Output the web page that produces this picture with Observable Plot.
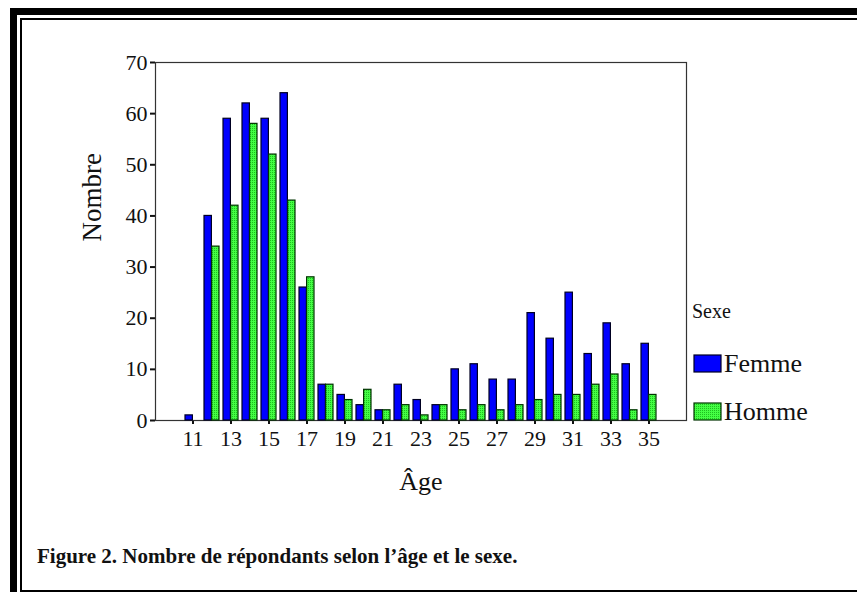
<!DOCTYPE html>
<html>
<head>
<meta charset="utf-8">
<script src="https://cdn.jsdelivr.net/npm/d3@7"></script>
<script src="https://cdn.jsdelivr.net/npm/@observablehq/plot@0.6"></script>
<style>
  html, body { margin: 0; padding: 0; background: #fff; }
  body { width: 857px; height: 592px; position: relative; overflow: hidden; font-family: "Liberation Serif", "Times New Roman", serif; }
  #outer { position: absolute; left: 10px; top: 8px; width: 900px; height: 700px; border-left: 7px solid #000; border-top: 7px solid #000; }
  #inner { position: absolute; left: 20px; top: 18px; width: 900px; height: 570px; border-left: 2px solid #000; border-top: 2px solid #000; border-bottom: 3px solid #000; }
  #chart { position: absolute; left: 0; top: 0; }
  #legend { position: absolute; left: 0; top: 0; }
  #caption { position: absolute; left: 37px; top: 544px; font: bold 21px "Liberation Serif", serif; color: #111; white-space: nowrap; }
  #chart svg g[aria-label*="axis"] path, #chart svg g[aria-label*="axis"] line { stroke-width: 2 !important; stroke: #111 !important; }
  #chart svg g[aria-label*="axis"] text { font-family: "Liberation Serif", serif !important; font-size: 22px !important; fill: #111 !important; }
</style>
</head>
<body>
<div id="outer"></div>
<div id="inner"></div>
<svg width="0" height="0" style="position:absolute">
  <defs>
    <pattern id="dotgreen" width="2" height="2" patternUnits="userSpaceOnUse">
      <rect width="2" height="2" fill="#44ff44"></rect>
      <rect width="1" height="1" fill="#1fbf1f"></rect>
    </pattern>
  </defs>
</svg>
<div id="chart"></div>
<svg id="legend" width="857" height="592"></svg>
<div id="caption">Figure 2. Nombre de répondants selon l’âge et le sexe.</div>
<script>
// ---- data ----
const ages = [11,12,13,14,15,16,17,18,19,20,21,22,23,24,25,26,27,28,29,30,31,32,33,34,35];
const femme = [1,40,59,62,59,64,26,7,5,3,2,7,4,3,10,11,8,8,21,16,25,13,19,11,15];
const homme = [0,34,42,58,52,43,28,7,4,6,2,3,1,3,2,3,2,3,4,5,5,7,9,2,5];
const sexes = ["Femme", "Homme"];
const colors = ["#0000ff", "url(#dotgreen)"];
const strokes = ["#000022", "#003300"];
const xTicks = [11,13,15,17,19,21,23,25,27,29,31,33,35];
const yTicks = [0,10,20,30,40,50,60,70];
const xTitle = "Âge";
const yTitle = "Nombre";
const legendTitle = "Sexe";

const dataF = ages.map((a, i) => ({age: a, n: femme[i]}));
const dataH = ages.map((a, i) => ({age: a, n: homme[i]}));

const chart = Plot.plot({
  width: 857,
  height: 520,
  marginLeft: 155,
  marginRight: 171,
  marginTop: 62,
  marginBottom: 100,
  style: {fontFamily: "'Liberation Serif', serif", fontSize: "22px", color: "#111", background: "transparent", overflow: "visible"},
  x: {type: "band", domain: ages, paddingInner: 0, paddingOuter: 1.32, align: 0.5, ticks: xTicks, tickSize: 4, tickPadding: 6, label: null, line: true},
  y: {domain: [0, 70], ticks: yTicks, tickSize: 5, tickPadding: 3, label: null, line: true},
  marks: [
    Plot.frame({stroke: "#333", strokeWidth: 1.2}),
    Plot.barY(dataF, {x: "age", y: "n", fill: colors[0], stroke: strokes[0], strokeWidth: 1.2, insetLeft: 2, insetRight: 9.6}),
    Plot.barY(dataH, {x: "age", y: "n", fill: colors[1], stroke: strokes[1], strokeWidth: 1.2, insetLeft: 9.6, insetRight: 2}),
    Plot.text([xTitle], {frameAnchor: "bottom", dy: 69, fontSize: 26, fill: "#111"}),
    Plot.text([yTitle], {frameAnchor: "left", dx: -63, rotate: -90, fontSize: 27, fill: "#111"})
  ]
});
document.getElementById("chart").appendChild(chart);
d3.select(chart).selectAll('g[aria-label*="axis"]')
  .attr("font-family", "Liberation Serif, serif").attr("font-size", 22)
  .selectAll("text").style("font-family", "'Liberation Serif', serif").style("font-size", "22px");

// ---- legend ----
const lg = d3.select("#legend");
lg.append("text").attr("x", 692).attr("y", 318).attr("font-size", 20)
  .attr("font-family", "Liberation Serif, serif").attr("fill", "#111").text(legendTitle);
sexes.forEach((s, i) => {
  const y0 = 355 + i * 48;
  lg.append("rect").attr("x", 694).attr("y", y0).attr("width", 27).attr("height", 17)
    .attr("fill", colors[i]).attr("stroke", strokes[i]).attr("stroke-width", 1.2);
  lg.append("text").attr("x", 724).attr("y", y0 + 17).attr("font-size", 26)
    .attr("font-family", "Liberation Serif, serif").attr("fill", "#111").text(s);
});
</script>
</body>
</html>
